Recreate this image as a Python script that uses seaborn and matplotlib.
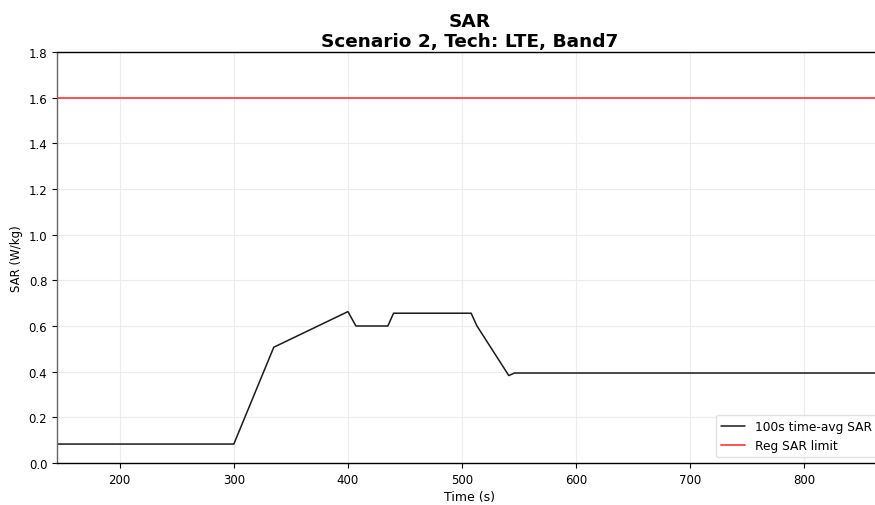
import matplotlib
matplotlib.use("Agg")
import matplotlib.pyplot as plt
import seaborn as sns
import pandas as pd

time_s = [145, 300, 335, 400, 407, 435, 440, 508, 513, 541, 546, 869]
sar_avg = [0.083, 0.083, 0.507, 0.663, 0.600, 0.600, 0.656, 0.656, 0.601, 0.383, 0.394, 0.394]
sar_limit = 1.6
x_ticks = [200, 300, 400, 500, 600, 700, 800]
y_ticks = [0.0, 0.2, 0.4, 0.6, 0.8, 1.0, 1.2, 1.4, 1.6, 1.8]

sns.set_theme(style="white")
plt.rcParams['font.family'] = ['DejaVu Sans']
plt.rcParams['text.color'] = 'black'
plt.rcParams['axes.labelcolor'] = 'black'

fig = plt.figure(figsize=(8.75, 5.06), dpi=100)
W, H = 875, 506
ax = fig.add_axes([57 / W, 1 - 464 / H, (883 - 57) / W, (464 - 53) / H])

df = pd.DataFrame({"Time (s)": time_s, "SAR": sar_avg})
sns.lineplot(data=df, x="Time (s)", y="SAR", ax=ax, color="#1a1a1a", lw=1.1,
             label="100s time-avg SAR", sort=False)
ax.axhline(sar_limit, color="#ff3030", lw=1.3, alpha=0.9, label="Reg SAR limit")

ax.set_xlim(145, 869)
ax.set_ylim(0, 1.8)
ax.set_xticks(x_ticks)
ax.set_yticks(y_ticks)
ax.set_yticklabels([f"{v:.1f}" for v in y_ticks])
ax.grid(True, color="#ececec", lw=0.8)
ax.tick_params(axis="both", labelsize=8.5, colors="black", length=3.5, width=0.8,
               left=True, bottom=True)
ax.set_xlabel("Time (s)", fontsize=9, labelpad=3)
ax.set_ylabel("SAR (W/kg)", fontsize=8.5, labelpad=4)
ax.set_title("SAR\nScenario 2, Tech: LTE, Band7", fontsize=13.3, fontweight="bold",
             pad=4, color="black")
for s in ["top", "bottom"]:
    ax.spines[s].set_color("black")
    ax.spines[s].set_linewidth(1.0)
ax.spines["left"].set_color("#666666")
ax.spines["left"].set_linewidth(1.0)
ax.spines["right"].set_visible(False)

ax.legend(loc="lower right", fontsize=8.8, frameon=True, framealpha=0.9,
          edgecolor="#dddddd", fancybox=True)

fig.savefig("out.png", dpi=100)
